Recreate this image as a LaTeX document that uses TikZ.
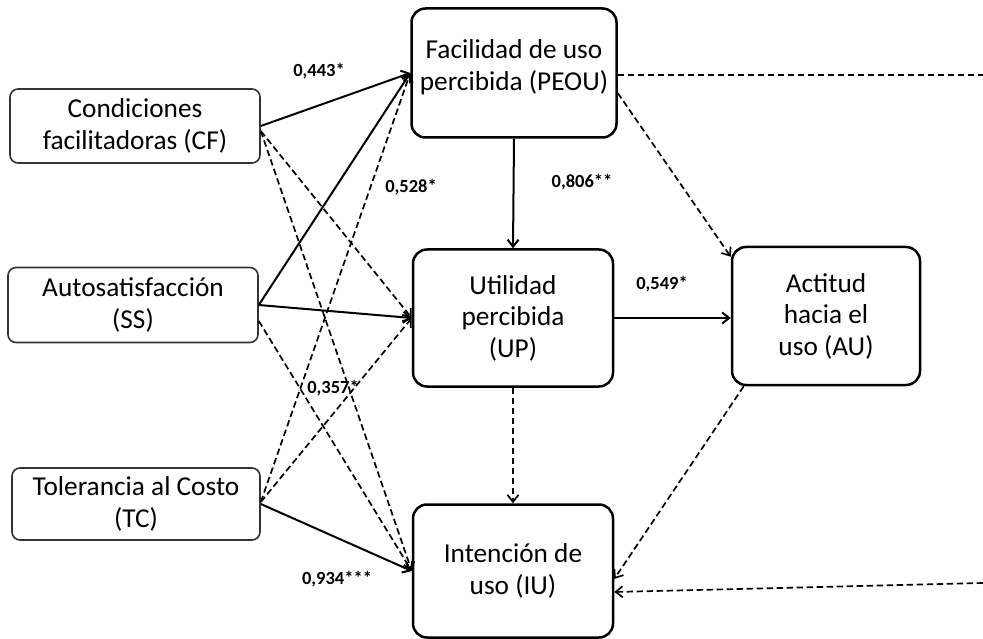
\documentclass[tikz,border=0pt]{standalone}
\usepackage{fontspec}
\setmainfont{Carlito}
\usetikzlibrary{arrows.meta}
\begin{document}
\begin{tikzpicture}[x=1pt,y=-1pt,
  every node/.style={font=\fontsize{27.3}{31.5}\selectfont},
  inbox/.style={draw=black!80, line width=1.6pt, rounded corners=8pt, align=center, inner sep=0pt},
  mainbox/.style={draw=black, line width=2.5pt, rounded corners=14pt, align=center, inner sep=0pt},
  txt/.style={align=center, inner sep=0pt},
  coef/.style={font=\fontsize{18.5}{20}\selectfont\bfseries, inner sep=0pt},
  sig/.style={line width=2pt, -{Straight Barb[length=7pt,width=11pt]}},
  nsig/.style={line width=1.7pt, dash pattern=on 6.5pt off 3.5pt, -{Straight Barb[length=7pt,width=11pt]}},
  nsigline/.style={line width=1.8pt, dash pattern=on 6.5pt off 3.5pt}]
\useasboundingbox (0,0) rectangle (983,639);

% exogenous constructs
\node[inbox, minimum width=250pt, minimum height=74pt] (CF) at (135,126) {Condiciones\\facilitadoras (CF)};
\node[inbox, minimum width=250pt, minimum height=75pt] (SS) at (133,305) {Autosatisfacción\\(SS)};
\node[inbox, minimum width=248pt, minimum height=72pt] (TC) at (136,504) {Tolerancia al Costo\\(TC)};

% TAM constructs
\node[mainbox, minimum width=205pt, minimum height=129pt] (PEOU) at (514,73) {};
\node[txt] (PEOUt) at (514,67) {Facilidad de uso\\percibida (PEOU)};
\node[mainbox, minimum width=200pt, minimum height=137pt] (UP) at (513,318) {Utilidad\\percibida\\(UP)};
\node[mainbox, minimum width=188pt, minimum height=138pt] (AU) at (826,316) {Actitud\\hacia el\\uso (AU)};
\node[mainbox, minimum width=200pt, minimum height=133pt] (IU) at (513,571) {Intención de\\uso (IU)};

% loose ends on the right
\coordinate (outA) at (983,75);
\coordinate (outB) at (983,583);

% paths from the exogenous constructs
\draw[sig] (CF.east) -- (PEOU.west);
\draw[nsig] ([yshift=-5pt]CF.east) -- (UP.west);
\draw[nsig] ([yshift=-5pt]CF.east) -- (IU.west);
\draw[sig] (SS.east) -- (PEOU.west);
\draw[sig] (SS.east) -- (UP.west);
\draw[nsig] ([yshift=-16pt]SS.east) -- (IU.west);
\draw[nsig] ([yshift=2pt]TC.east) -- (PEOU.west);
\draw[nsig] ([yshift=2pt]TC.east) -- (UP.west);
\draw[sig] (TC.east) -- (IU.west);

% TAM paths
\draw[sig] (PEOU.south) -- (UP.north);
\draw[sig] (UP.east) -- (AU.west |- UP.east);
\draw[nsig] (UP.south) -- (IU.north);
\draw[nsig] ([yshift=-20pt]PEOU.east) -- ([yshift=-11pt]AU.north west);
\draw[nsigline] ([yshift=-2pt]PEOU.east) -- (outA);
\draw[nsig] ([xshift=13pt]AU.south west) -- ([yshift=-8pt]IU.east);
\draw[nsig] (outB) -- ([yshift=-21pt]IU.east);

% path coefficients
\node[coef] (c1) at (319,71) {0,443*};
\node[coef] (c2) at (411,187) {0,528*};
\node[coef] (c3) at (582,182) {0,806**};
\node[coef] (c4) at (662,284) {0,549*};
\node[coef] (c5) at (333,388) {0,357*};
\node[coef] (c6) at (337,579) {0,934***};
\end{tikzpicture}
\end{document}
